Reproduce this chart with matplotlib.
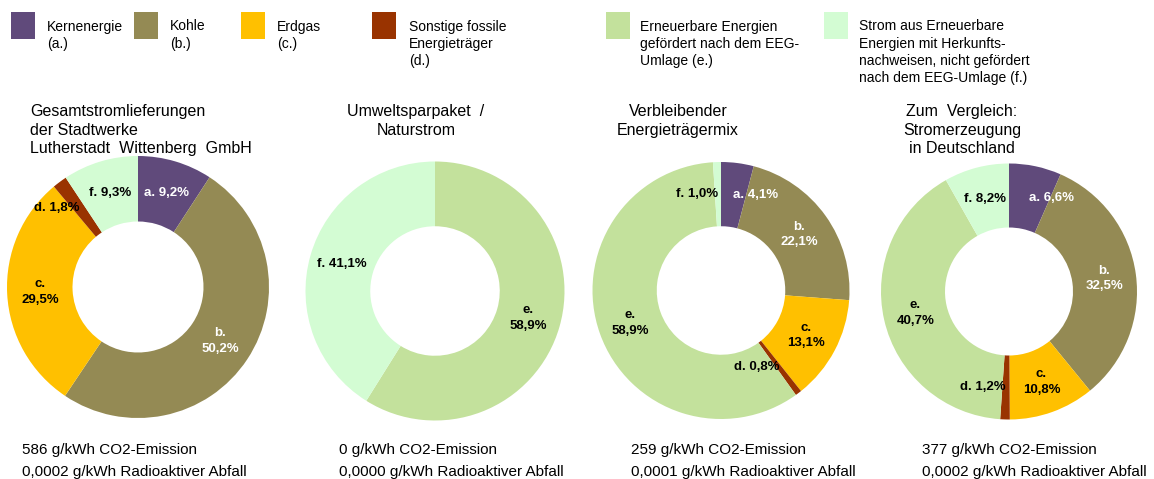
import matplotlib
matplotlib.use("Agg")
import matplotlib.pyplot as plt
from matplotlib.patches import Rectangle
import numpy as np

plt.rcParams['font.family'] = ['Liberation Sans', 'DejaVu Sans']

W, H = 1154, 479

# ---- data ----
categories = ['a', 'b', 'c', 'd', 'e', 'f']
legend_labels = [
    'Kernenergie\n(a.)',
    'Kohle\n(b.)',
    'Erdgas\n(c.)',
    'Sonstige fossile\nEnergieträger\n(d.)',
    'Erneuerbare Energien\ngefördert nach dem EEG-\nUmlage (e.)',
    'Strom aus Erneuerbare\nEnergien mit Herkunfts-\nnachweisen, nicht gefördert\nnach dem EEG-Umlage (f.)',
]
colors = ['#604A7B', '#948A54', '#FFC000', '#993300', '#C3E19C', '#D3FCD3']
label_colors = ['white', 'white', 'black', 'black', 'black', 'black']

titles = [
    'Gesamtstromlieferungen\nder Stadtwerke\nLutherstadt  Wittenberg  GmbH',
    'Umweltsparpaket  /\nNaturstrom',
    'Verbleibender\nEnergieträgermix',
    'Zum  Vergleich:\nStromerzeugung\nin Deutschland',
]
values_gesamt = [9.2, 50.2, 29.5, 1.8, 0.0, 9.3]
values_umwelt = [0.0, 0.0, 0.0, 0.0, 58.9, 41.1]
values_rest = [4.1, 22.1, 13.1, 0.8, 58.9, 1.0]
values_de = [6.6, 32.5, 10.8, 1.2, 40.7, 8.2]
all_values = [values_gesamt, values_umwelt, values_rest, values_de]

co2 = ['586', '0', '259', '377']
waste = ['0,0002', '0,0000', '0,0001', '0,0002']

# ---- layout (pixels) ----
centers = [(138, 287), (435, 291), (721, 290.5), (1009, 291.5)]
radii = [131, 129.5, 128.5, 128]

fig = plt.figure(figsize=(W / 100, H / 100), dpi=100)
fig.patch.set_facecolor('white')


def fx(x):
    return x / W


def fy(y):
    return 1 - y / H


two_line = {'b', 'c', 'e'}

for i, vals in enumerate(all_values):
    cx, cy = centers[i]
    r = radii[i]
    ax = fig.add_axes([fx(cx - r), fy(cy + r), 2 * r / W, 2 * r / H])
    wedges, _ = ax.pie(vals, colors=colors, startangle=90, counterclock=False,
                       radius=1.0, wedgeprops=dict(width=0.5, linewidth=0))
    ax.set_xlim(-1, 1)
    ax.set_ylim(-1, 1)
    ax.set_aspect('equal')
    ax.axis('off')
    for j, w in enumerate(wedges):
        v = vals[j]
        if v <= 0:
            continue
        ang = np.deg2rad((w.theta1 + w.theta2) / 2)
        x = 0.75 * np.cos(ang)
        y = 0.75 * np.sin(ang)
        val = f'{v:.1f}'.replace('.', ',') + '%'
        cat = categories[j]
        if cat in two_line:
            txt = f'{cat}.\n{val}'
        else:
            txt = f'{cat}. {val}'
        ha = 'center'
        if v < 7:
            if cat == 'a':
                ha = 'left'
            else:
                ha = 'right'
        ax.text(x, y, txt, ha=ha, va='center', fontsize=9.5, fontweight='bold',
                color=label_colors[j], linespacing=1.4, multialignment='center')

# titles
title_x = [30, 416, 678, 962]
title_ha = ['left', 'center', 'center', 'center']
for k in range(4):
    fig.text(fx(title_x[k]), fy(104), titles[k], ha=title_ha[k], va='top',
             fontsize=11.5, linespacing=1.3, multialignment=title_ha[k])

# legend
sq_x = [11, 134, 241, 372, 606, 824]
txt_x = [47, 170, 277, 409, 640, 859]
for k in range(6):
    fig.patches.append(Rectangle((fx(sq_x[k]), fy(39)), 24 / W, 27 / H,
                                 transform=fig.transFigure, facecolor=colors[k],
                                 edgecolor='none'))
    fig.text(fx(txt_x[k]), fy(19.5), legend_labels[k], ha='left', va='top',
             fontsize=10, linespacing=1.3)

# bottom texts
bot_x = [22, 339, 631, 922]
for k in range(4):
    fig.text(fx(bot_x[k]), fy(450), f'{co2[k]} g/kWh CO2-Emission', ha='left',
             va='center', fontsize=11)
    fig.text(fx(bot_x[k]), fy(472), f'{waste[k]} g/kWh Radioaktiver Abfall', ha='left',
             va='center', fontsize=11)

fig.savefig('out.png', dpi=100, facecolor='white')
